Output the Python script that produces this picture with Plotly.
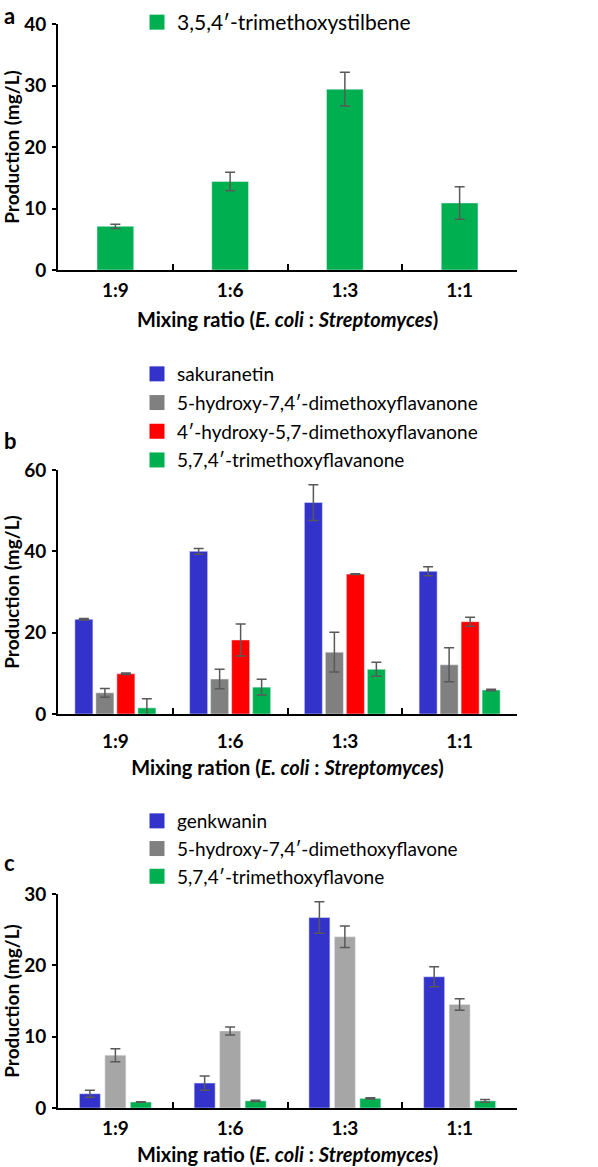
import plotly.graph_objects as go

categories = ["1:9", "1:6", "1:3", "1:1"]

# Panel a
a_names = ["3,5,4′-trimethoxystilbene"]
a_vals = [[7.1, 14.4, 29.4, 10.9]]
a_errs = [[0.35, 1.5, 2.75, 2.65]]
a_colors = ["#00B050"]

# Panel b
b_names = ["sakuranetin", "5-hydroxy-7,4′-dimethoxyflavanone",
           "4′-hydroxy-5,7-dimethoxyflavanone", "5,7,4′-trimethoxyflavanone"]
b_vals = [[23.3, 40.0, 52.0, 35.1],
          [5.2, 8.6, 15.2, 12.1],
          [9.9, 18.2, 34.4, 22.7],
          [1.5, 6.6, 11.0, 5.9]]
b_errs = [[0.2, 0.7, 4.4, 1.1],
          [1.1, 2.4, 4.9, 4.2],
          [0.2, 3.95, 0.1, 1.1],
          [2.25, 1.95, 1.7, 0.2]]
b_colors = ["#3333CC", "#808080", "#FF0000", "#00B050"]

# Panel c
c_names = ["genkwanin", "5-hydroxy-7,4′-dimethoxyflavone", "5,7,4′-trimethoxyflavone"]
c_vals = [[2.0, 3.5, 26.7, 18.4],
          [7.4, 10.8, 24.0, 14.5],
          [0.84, 1.0, 1.35, 1.0]]
c_errs = [[0.5, 1.0, 2.2, 1.4],
          [0.9, 0.55, 1.5, 0.8],
          [0.05, 0.1, 0.1, 0.2]]
c_colors = ["#3333CC", "#A6A6A6", "#00B050"]
c_legend_colors = ["#3333CC", "#808080", "#00B050"]

FONT = "Lato, 'Open Sans', sans-serif"
ERR = "#595959"

fig = go.Figure()


def add_panel(names, vals, errs, colors, legend_colors, xa, ya, legend, width, centers):
    for i, (n, v, e, c) in enumerate(zip(names, vals, errs, colors)):
        fig.add_trace(go.Bar(
            x=categories, y=v, marker_color=c, showlegend=False, name=n,
            width=width, offset=centers[i] - width / 2,
            error_y=dict(type="data", array=e, color=ERR, thickness=1.5, width=5),
            xaxis=xa, yaxis=ya))
    for i, (n, lc) in enumerate(zip(names, legend_colors)):
        fig.add_trace(go.Scatter(
            x=[None], y=[None], name=n, mode="markers",
            marker=dict(symbol="square", size=15, color=lc),
            xaxis=xa, yaxis=ya, legend=legend, legendgroup=legend + str(i)))


add_panel(a_names, a_vals, a_errs, a_colors, a_colors, "x", "y", "legend",
          0.32, [0.0])
add_panel(b_names, b_vals, b_errs, b_colors, b_colors, "x2", "y2", "legend2",
          0.157, [-0.2745, -0.0915, 0.0915, 0.2745])
add_panel(c_names, c_vals, c_errs, c_colors, c_legend_colors, "x3", "y3", "legend3",
          0.183, [-0.222, 0.0, 0.222])

xdom = [58 / 598, 517 / 598]
H = 1167


def ydom(top, bottom):
    return [1 - bottom / H, 1 - top / H]


axis_common = dict(showline=True, linecolor="black", linewidth=2,
                   tickfont=dict(family=FONT, size=19, color="black", weight="bold"),
                   showgrid=False, zeroline=False, automargin=False)

xcommon = dict(axis_common, type="category", range=[-0.5, 3.5], ticks="inside",
               tickson="boundaries", ticklen=6, tickwidth=2, tickcolor="black", domain=xdom)
ycommon = dict(axis_common, ticks="outside", ticklen=4, tickwidth=2, tickcolor="black",
               ticklabelstandoff=2)

title_font = dict(family=FONT, size=20, color="black", weight="bold")
ytitle_font = dict(family=FONT, size=19, color="black", weight="bold")

fig.update_layout(
    width=598, height=1167,
    margin=dict(l=0, r=0, t=0, b=0, autoexpand=False),
    paper_bgcolor="white", plot_bgcolor="white",
    barmode="group",
    font=dict(family=FONT, color="black"),
    xaxis=dict(xcommon, anchor="y", ticklabelstandoff=2,
               title=dict(text="Mixing ratio (<i>E. coli</i> : <i>Streptomyces</i>)", font=title_font, standoff=13)),
    yaxis=dict(ycommon, domain=ydom(24, 270), range=[0, 40], dtick=10, anchor="x",
               title=dict(text="Production (mg/L)", font=ytitle_font, standoff=12)),
    xaxis2=dict(xcommon, anchor="y2", ticklabelstandoff=9,
                title=dict(text="Mixing ration (<i>E. coli</i> : <i>Streptomyces</i>)", font=title_font, standoff=10)),
    yaxis2=dict(ycommon, domain=ydom(470, 714), range=[0, 60], dtick=20, anchor="x2",
                title=dict(text="Production (mg/L)", font=ytitle_font, standoff=12)),
    xaxis3=dict(xcommon, anchor="y3", ticklabelstandoff=2,
                title=dict(text="Mixing ratio (<i>E. coli</i> : <i>Streptomyces</i>)", font=title_font, standoff=10)),
    yaxis3=dict(ycommon, domain=ydom(894, 1108), range=[0, 30], dtick=10, anchor="x3",
                title=dict(text="Production (mg/L)", font=ytitle_font, standoff=12)),
    legend=dict(x=137 / 598, y=1 - 2 / H, xanchor="left", yanchor="top",
                font=dict(family=FONT, size=21, color="black"), bgcolor="rgba(0,0,0,0)"),
    legend2=dict(x=137 / 598, y=1 - 355 / H, xanchor="left", yanchor="top",
                 font=dict(family=FONT, size=19, color="black"), bgcolor="rgba(0,0,0,0)",
                 tracegroupgap=1),
    legend3=dict(x=137 / 598, y=1 - 802 / H, xanchor="left", yanchor="top",
                 font=dict(family=FONT, size=19, color="black"), bgcolor="rgba(0,0,0,0)",
                 tracegroupgap=0),
    annotations=[
        dict(text="a", x=2 / 598, y=1 - 16 / H, xref="paper", yref="paper", showarrow=False,
             xanchor="left", yanchor="middle", font=dict(family=FONT, size=22, color="black", weight="bold")),
        dict(text="b", x=2 / 598, y=1 - 440 / H, xref="paper", yref="paper", showarrow=False,
             xanchor="left", yanchor="middle", font=dict(family=FONT, size=22, color="black", weight="bold")),
        dict(text="c", x=2 / 598, y=1 - 862 / H, xref="paper", yref="paper", showarrow=False,
             xanchor="left", yanchor="middle", font=dict(family=FONT, size=22, color="black", weight="bold")),
    ],
)

fig.write_html("out.html", config={"displayModeBar": False},
               post_script="document.body.style.margin='0';document.body.style.overflow='hidden';")
